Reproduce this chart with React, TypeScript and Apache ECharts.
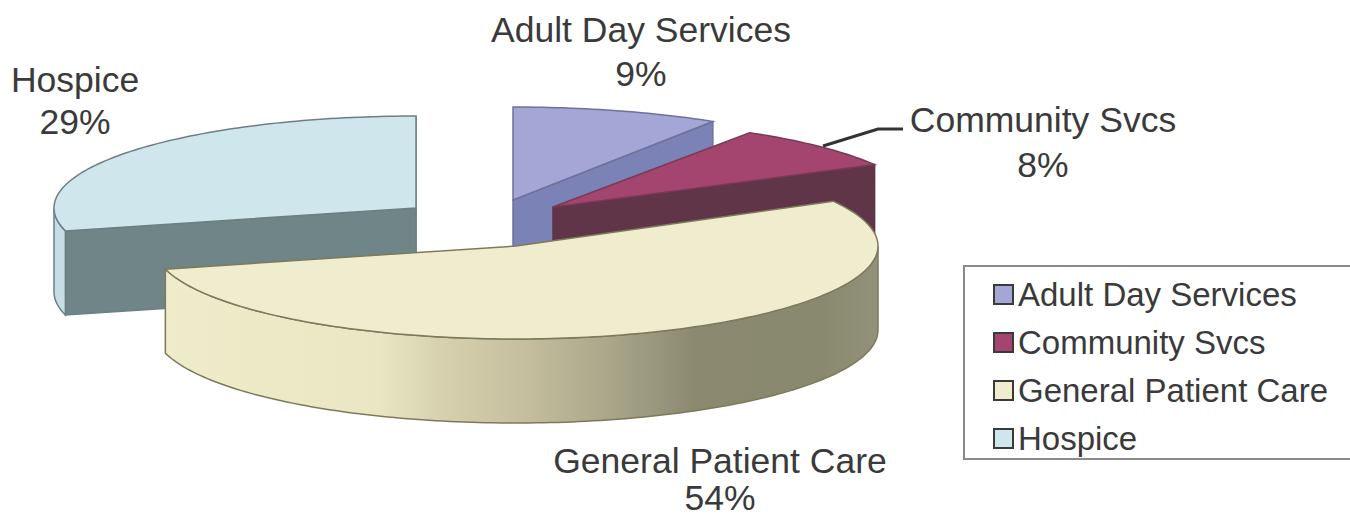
import React, { useEffect, useRef } from "react";
import * as echarts from "echarts";

const categories = ["Adult Day Services", "Community Svcs", "General Patient Care", "Hospice"];
const values = [9, 8, 54, 29];
const total = values.reduce((a, b) => a + b, 0);

const topColors = ["#a4a7d6", "#a4456f", "#efedcd", "#cfe7ec"];
const cutColors = ["#7b82b6", "#5f3547", "#8a8a70", "#6f8587"];
const outerColors = ["#7b82b6", "#5f3547", "#8a8a70", "#c5dde3"];
const strokeColors = ["#6f7199", "#7a3a55", "#7d7a5c", "#6d7f84"];
const cutStrokes = ["#6f7199", "#5f3547", "#7d7a5c", "#6d7f84"];

// Layout of each exploded slice: ellipse centre, radii
const centers = [[513, 200], [553, 207], [516, 246], [416, 208]];
const radii = [[373, 93], [367, 88], [362, 93], [362, 92]];
const depth = 84;
const labelX = [641, 1043, 720, 75];
const nameY = [30, 120, 461, 80];
const pctY = [74, 165, 498, 122];
const zOrder = [2, 3, 4, 1];

const sideStops = [
  { offset: 0, color: "#eeecca" },
  { offset: 0.3, color: "#e9e6c3" },
  { offset: 0.38, color: "#d8d2b0" },
  { offset: 0.5, color: "#c6bf9f" },
  { offset: 0.62, color: "#aaa78a" },
  { offset: 0.74, color: "#8b8a71" },
  { offset: 0.92, color: "#898970" },
  { offset: 1, color: "#92927a" },
];

const TAU = Math.PI * 2;

function makeRender(index: number) {
  return (_params: any, api: any) => {
    const prior = values.slice(0, index).reduce((a, b) => a + b, 0);
    const start = (prior / total) * TAU;
    const sweep = (api.value(0) / total) * TAU;
    const end = start + sweep;
    const [cx, cy] = centers[index];
    const [rx, ry] = radii[index];
    const pt = (t: number, dy = 0) => [cx + rx * Math.sin(t), cy - ry * Math.cos(t) + dy];
    const arc = (a: number, b: number, dy = 0) => {
      const n = Math.max(2, Math.ceil(Math.abs(b - a) / 0.02));
      const out: number[][] = [];
      for (let i = 0; i <= n; i++) out.push(pt(a + ((b - a) * i) / n, dy));
      return out;
    };
    const stroke = strokeColors[index];
    const children: any[] = [];
    const cut = (t: number) => ({
      type: "polygon",
      shape: { points: [[cx, cy], pt(t), pt(t, depth), [cx, cy + depth]] },
      style: { fill: cutColors[index], stroke: cutStrokes[index], lineWidth: 1.5 },
    });
    if (sweep < Math.PI) {
      if (end < Math.PI) children.push(cut(end));
      if (start > Math.PI) {
        children.push(cut(start));
        children.push(cut(end));
      }
    }
    const oa = Math.max(start, Math.PI / 2);
    const ob = Math.min(end, (Math.PI * 3) / 2);
    if (ob > oa) {
      children.push({
        type: "polygon",
        shape: { points: [...arc(oa, ob), ...arc(ob, oa, depth)] },
        style: {
          fill: sweep > Math.PI ? new echarts.graphic.LinearGradient(0, 0, 1, 0, sideStops) : outerColors[index],
          stroke,
          lineWidth: 1.5,
        },
      });
    }
    children.push({
      type: "polygon",
      shape: { points: [[cx, cy], ...arc(start, end)] },
      style: { fill: topColors[index], stroke, lineWidth: 1.5 },
    });
    const label = (text: string, y: number) => ({
      type: "text",
      x: labelX[index],
      y,
      style: {
        text,
        fontFamily: "Liberation Sans",
        fontSize: 35.5,
        lineHeight: 30,
        fill: "#3a3a3a",
        align: "center",
        verticalAlign: "middle",
      },
    });
    children.push(label(categories[index], nameY[index]));
    children.push(label(`${values[index]}%`, pctY[index]));
    return { type: "group", children };
  };
}

export default function App() {
  const ref = useRef<HTMLDivElement>(null);
  useEffect(() => {
    document.body.style.margin = "0";
    document.body.style.overflow = "hidden";
    const chart = echarts.init(ref.current!, undefined, { renderer: "svg" });
    chart.setOption({
      animation: false,
      backgroundColor: "#ffffff",
      legend: {
        orient: "vertical",
        left: 993,
        top: 278,
        padding: 0,
        itemWidth: 19,
        itemHeight: 19,
        itemGap: 15,
        icon: "rect",
        align: "left",
        data: categories.map((name, i) => ({
          name,
          itemStyle: { color: topColors[i], borderColor: "#3a3a3a", borderWidth: 2 },
        })),
        textStyle: { fontFamily: "Liberation Sans", fontSize: 33, color: "#3a3a3a", padding: [0, 0, 0, 0] },
      },
      graphic: [
        {
          type: "rect",
          z: 0,
          silent: true,
          shape: { x: 964, y: 266, width: 400, height: 193 },
          style: { fill: "#ffffff", stroke: "#8a8a8a", lineWidth: 2 },
        },
        {
          type: "polyline",
          z: 10,
          silent: true,
          shape: { points: [[823, 146], [878, 129], [903, 129]] },
          style: { fill: "none", stroke: "#333333", lineWidth: 3 },
        },
      ],
      series: categories.map((name, i) => ({
        type: "custom",
        name,
        coordinateSystem: "none",
        z: zOrder[i],
        itemStyle: { color: topColors[i] },
        data: [[values[i]]],
        renderItem: makeRender(i),
      })),
    });
    return () => chart.dispose();
  }, []);
  return <div ref={ref} style={{ width: 1350, height: 519 }} />;
}
